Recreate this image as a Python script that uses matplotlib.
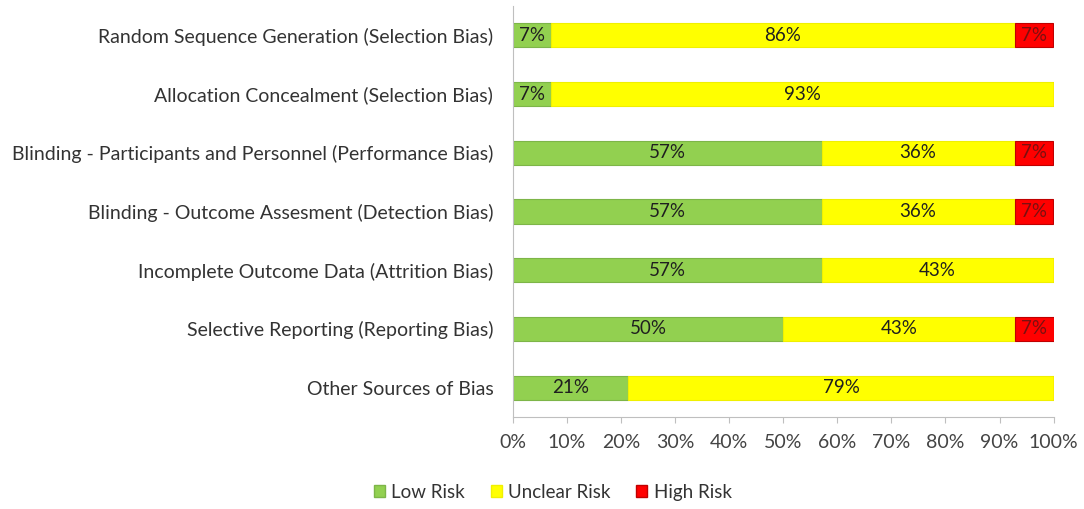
import matplotlib
matplotlib.use('Agg')
import matplotlib.pyplot as plt
from matplotlib.patches import Patch

# categories, top to bottom
categories = [
    'Random Sequence Generation (Selection Bias)',
    'Allocation Concealment (Selection Bias)',
    'Blinding - Participants and Personnel (Performance Bias)',
    'Blinding - Outcome Assesment (Detection Bias)',
    'Incomplete Outcome Data (Attrition Bias)',
    'Selective Reporting (Reporting Bias)',
    'Other Sources of Bias',
]
low_risk = [7.1, 7.1, 57.1, 57.1, 57.1, 50.0, 21.4]
unclear_risk = [85.7, 92.9, 35.7, 35.7, 42.9, 42.9, 78.6]
high_risk = [7.1, 0.0, 7.1, 7.1, 0.0, 7.1, 0.0]
series_names = ['Low Risk', 'Unclear Risk', 'High Risk']
tick_labels = ['0%', '10%', '20%', '30%', '40%', '50%',
               '60%', '70%', '80%', '90%', '100%']

plt.rcParams['font.family'] = ['Lato', 'DejaVu Sans']

fig = plt.figure(figsize=(10.84, 5.09), dpi=100)
ax = fig.add_axes([0.473, 0.181, 0.499, 0.807])

fills = ['#92D050', '#FFFF00', '#FF0000']
edges = ['#7DB548', '#F0F000', '#C00000']
text_cols = ['#1f1f1f', '#1f1f1f', '#7a1010']

ypos = list(range(len(categories)))
left = [0.0] * len(categories)
for vals, name, fc, ec, tc in zip([low_risk, unclear_risk, high_risk],
                                  series_names, fills, edges, text_cols):
    bars = ax.barh(ypos, vals, left=left, height=0.41, color=fc,
                   edgecolor=ec, linewidth=0.8, label=name)
    for b, v in zip(bars, vals):
        if v > 0:
            ax.text(b.get_x() + b.get_width() / 2, b.get_y() + b.get_height() / 2,
                    f'{round(v):.0f}%', ha='center', va='center',
                    fontsize=13.5, color=tc)
    left = [a + b for a, b in zip(left, vals)]

ax.set_ylim(len(categories) - 0.5, -0.5)
ax.set_xlim(0, 100)
ax.set_yticks(ypos)
ax.set_yticklabels(categories, fontsize=14, color='#333333')
ax.set_xticks(range(0, 101, 10))
ax.set_xticklabels(tick_labels, fontsize=14, color='#444444')
ax.tick_params(axis='y', length=0, pad=14)
ax.tick_params(axis='x', length=4, color='#BFBFBF', pad=8.5)

for s in ['top', 'right']:
    ax.spines[s].set_visible(False)
ax.spines['left'].set_color('#BFBFBF')
ax.spines['bottom'].set_color('#BFBFBF')

handles = [Patch(facecolor=fc, edgecolor=ec) for fc, ec in zip(fills, edges)]
fig.legend(handles, series_names, loc='center', bbox_to_anchor=(0.51, 0.033),
           ncol=3, frameon=False, fontsize=13.5, handlelength=0.6,
           handleheight=0.6, handletextpad=0.35, columnspacing=1.35,
           labelcolor='#333333')

fig.savefig('out.png', dpi=100)
